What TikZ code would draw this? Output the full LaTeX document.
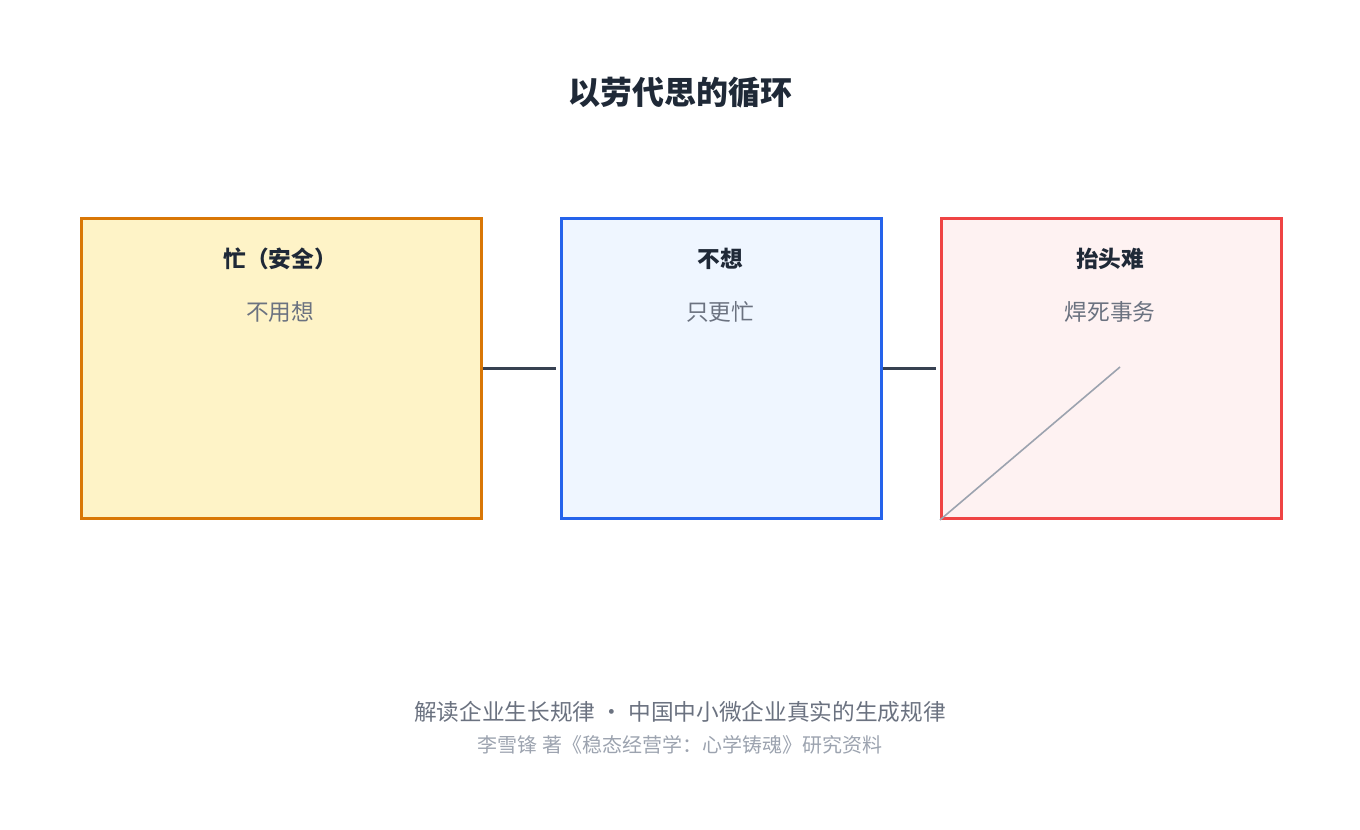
\documentclass[tikz,border=0pt]{standalone}
\usepackage{fontspec}
\setmainfont{Noto Sans CJK SC}
\usetikzlibrary{positioning}
\definecolor{inkdark}{HTML}{1F2937}
\definecolor{inkgray}{HTML}{6B7280}
\definecolor{inklight}{HTML}{9CA3AF}
\definecolor{linkdark}{HTML}{374151}
\tikzset{
	box/.style={
			draw,
			line width=2.2pt,
			anchor=north west,
			inner sep=0pt,
		},
	boxtitle/.style={font=\fontsize{17}{20}\selectfont\bfseries, text=inkdark},
	boxnote/.style={font=\fontsize{17}{20}\selectfont, text=inkgray},
	link/.style={draw=linkdark, line width=2.4pt}
}

\begin{document}
\begin{tikzpicture}[x=0.75pt,y=-0.75pt]
			\useasboundingbox (0,0) rectangle (1360,830);

			\node[font=\fontsize{24}{28}\selectfont\bfseries, text=inkdark] at (680,93) (title) {以劳代思的循环};

			\node[box, draw={rgb,255:red,217;green,119;blue,6}, fill={rgb,255:red,254;green,243;blue,199}, minimum width=300pt, minimum height=225pt] at (80,217) (busy) {};
			\node[box, draw={rgb,255:red,37;green,99;blue,235}, fill={rgb,255:red,239;green,246;blue,255}, minimum width=240pt, minimum height=225pt] at (560,217) (nothink) {};
			\node[box, draw={rgb,255:red,239;green,68;blue,68}, fill={rgb,255:red,254;green,242;blue,242}, minimum width=255pt, minimum height=225pt] at (940,217) (stuck) {};

			\node[boxtitle] at (280,259) (busyT) {忙（安全）};
			\node[boxnote] at (280,312) (busyN) {不用想};
			\node[boxtitle] at (720,259) (nothinkT) {不想};
			\node[boxnote] at (720,312) (nothinkN) {只更忙};
			\node[boxtitle] at (1110,259) (stuckT) {抬头难};
			\node[boxnote] at (1110,312) (stuckN) {焊死事务};

			\draw[link, shorten >=3pt] (busy.east) -- (nothink.west);
			\draw[link, shorten >=3pt] (nothink.east) -- (stuck.west);

			\coordinate (tip) at (1120,367);
			\draw[draw=inklight, line width=1.2pt] (stuck.south west) -- (tip);

			\node[font=\fontsize{17}{20}\selectfont, text=inkgray] at (680,712) (foot) {解读企业生长规律 • 中国中小微企业真实的生成规律};
			\node[font=\fontsize{15}{18}\selectfont, text=inklight] at (680,745) (src) {李雪锋 著《稳态经营学：心学铸魂》研究资料};
		\end{tikzpicture}
\end{document}
